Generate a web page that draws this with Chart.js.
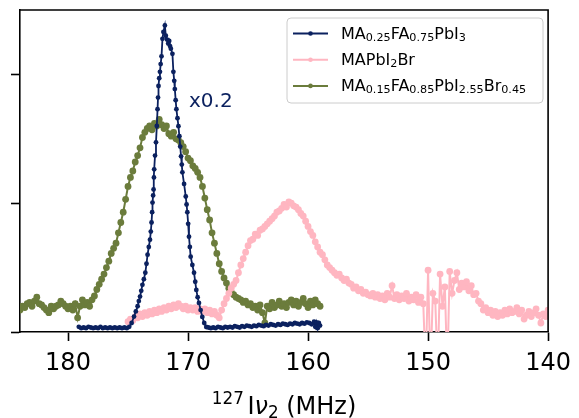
<!DOCTYPE html>
<html>
<head>
<meta charset="utf-8">
<script src="https://cdn.jsdelivr.net/npm/chart.js@4.4.1/dist/chart.umd.min.js"></script>
<style>
  html, body { margin: 0; padding: 0; background: #fff; }
  #wrap { width: 579px; height: 418px; }
</style>
</head>
<body>
<div id="wrap"><canvas id="nmr" width="579" height="418"></canvas></div>
<script>
// legend labels (markup: <sub>, <sup>, <i>)
const seriesLabels = [
    'MA<sub>0.25</sub>FA<sub>0.75</sub>PbI<sub>3</sub>',
    'MAPbI<sub>2</sub>Br',
    'MA<sub>0.15</sub>FA<sub>0.85</sub>PbI<sub>2.55</sub>Br<sub>0.45</sub>'
];
const seriesColors = ['#0b215f', '#ffb6c1', '#6b7c3c'];
const xTickValues = [180, 170, 160, 150, 140];
const yTickValues = [0, 1, 2];
const xAxisTitle = '<sup>127</sup>I<i>ν</i><sub>2</sub> (MHz)';
const scaleNote = 'x0.2';

// [frequency MHz, intensity]
const navyPoints = [
    [179.1,0.04],[178.9,0.03],[178.7,0.035],[178.5,0.03],[178.3,0.04],[178.1,0.035],[177.9,0.03],[177.7,0.035],
    [177.5,0.03],[177.3,0.04],[177.1,0.03],[176.9,0.035],[176.7,0.03],[176.5,0.035],[176.3,0.03],[176.1,0.035],
    [175.9,0.03],[175.7,0.035],[175.5,0.03],[175.3,0.035],[175.1,0.03],[174.9,0.04],
    [174.7,0.07],[174.5,0.12],[174.35,0.16],[174.2,0.2],[174.1,0.24],[174.0,0.275],[173.9,0.32],[173.8,0.366],
    [173.68,0.41],[173.56,0.46],[173.46,0.53],[173.37,0.6],[173.27,0.66],[173.17,0.717],[173.1,0.78],[173.04,0.85],
    [172.99,0.93],[172.96,1.005],[172.91,1.06],[172.87,1.107],[172.84,1.2],[172.82,1.263],[172.75,1.37],[172.67,1.473],
    [172.6,1.6],[172.54,1.73],[172.5,1.82],[172.46,1.91],[172.4,1.97],[172.34,2.02],[172.28,2.08],[172.21,2.14],
    [172.13,2.276],[172.05,2.33],[171.93,2.38],
    [171.85,2.30],[171.75,2.27],[171.65,2.24],[171.57,2.26],[171.5,2.22],[171.43,2.20],[171.3,2.16],[171.22,2.02],
    [171.15,1.95],[171.1,1.886],[171.03,1.8],[170.97,1.73],[170.88,1.66],[170.8,1.598],[170.72,1.52],[170.65,1.44],
    [170.58,1.364],[170.52,1.3],[170.47,1.24],[170.33,1.15],[170.19,1.052],[170.12,0.99],[170.06,0.93],[169.99,0.84],
    [169.92,0.74],[169.85,0.66],[169.78,0.585],[169.64,0.52],[169.5,0.46],[169.4,0.39],[169.31,0.327],[169.2,0.27],
    [169.09,0.226],[168.95,0.17],[168.81,0.117],[168.65,0.07],[168.48,0.039],
    [168.3,0.035],[168.1,0.03],[167.9,0.035],[167.7,0.03],[167.5,0.04],[167.3,0.035],[167.1,0.03],[166.9,0.04],
    [166.7,0.035],[166.5,0.04],[166.3,0.035],[166.1,0.045],[165.9,0.04],[165.7,0.035],[165.5,0.045],[165.3,0.04],
    [165.1,0.05],[164.9,0.045],[164.7,0.04],[164.5,0.05],[164.3,0.045],[164.1,0.055],[163.9,0.05],[163.7,0.045],
    [163.5,0.055],[163.3,0.05],[163.1,0.06],[162.9,0.055],[162.7,0.05],[162.5,0.06],[162.3,0.055],[162.1,0.065],
    [161.9,0.06],[161.7,0.055],[161.5,0.065],[161.3,0.06],[161.1,0.07],[160.9,0.065],[160.7,0.06],[160.5,0.07],
    [160.3,0.065],[160.1,0.075],[159.9,0.07],[159.7,0.06],[159.5,0.08],[159.4,0.04],[159.3,0.075],[159.2,0.03],
    [159.1,0.07],[159.0,0.05]
];

const pinkPoints = [
    [175.0,0.08],[174.8,0.1],[174.6,0.09],[174.4,0.12],[174.2,0.11],[174.0,0.14],[173.8,0.12],[173.6,0.15],
    [173.4,0.13],[173.2,0.16],[173.0,0.14],[172.8,0.17],[172.6,0.15],[172.4,0.18],[172.2,0.16],[172.0,0.19],
    [171.8,0.17],[171.6,0.2],[171.4,0.18],[171.2,0.21],[171.0,0.19],[170.8,0.22],[170.6,0.2],[170.4,0.18],
    [170.2,0.2],[170.0,0.17],[169.8,0.19],[169.6,0.17],[169.4,0.19],[169.2,0.16],[169.0,0.18],[168.8,0.16],
    [168.6,0.18],[168.4,0.15],[168.2,0.17],[168.0,0.14],[167.8,0.16],[167.6,0.13],[167.4,0.11],[167.2,0.17],
    [167.0,0.22],[166.8,0.26],[166.6,0.3],[166.4,0.34],[166.2,0.37],[166.0,0.4],[165.8,0.46],[165.6,0.52],
    [165.4,0.57],[165.2,0.62],[165.0,0.67],[164.8,0.71],[164.6,0.72],[164.4,0.76],[164.2,0.75],[164.0,0.79],
    [163.8,0.8],[163.6,0.82],[163.4,0.84],[163.2,0.86],[163.0,0.88],[162.8,0.9],[162.6,0.93],[162.4,0.94],
    [162.2,0.96],[162.0,0.99],[161.8,0.97],[161.6,1.01],[161.4,1.0],[161.2,0.98],[161.0,0.97],[160.8,0.95],
    [160.6,0.92],[160.4,0.9],[160.2,0.86],[160.0,0.82],[159.8,0.78],[159.6,0.75],[159.4,0.7],[159.2,0.66],
    [159.0,0.62],[158.8,0.6],[158.6,0.56],[158.4,0.52],[158.2,0.5],[158.0,0.48],[157.8,0.46],[157.6,0.44],
    [157.4,0.45],[157.2,0.42],[157.0,0.4],[156.8,0.41],[156.6,0.38],[156.4,0.37],[156.2,0.34],[156.0,0.35],
    [155.8,0.32],[155.6,0.33],[155.4,0.3],[155.2,0.31],[155.0,0.29],[154.8,0.28],[154.6,0.3],[154.4,0.27],
    [154.2,0.29],[154.0,0.26],[153.8,0.28],[153.6,0.25],[153.4,0.3],[153.2,0.27],[153.0,0.36],[152.8,0.26],
    [152.6,0.29],[152.4,0.25],[152.2,0.28],[152.0,0.26],[151.8,0.3],[151.6,0.24],[151.4,0.27],[151.2,0.25],
    [151.0,0.29],[150.8,0.23],[150.6,0.27],[150.4,0.22],[150.2,-0.3],[150.0,0.48],[149.8,-0.3],[149.6,0.3],
    [149.4,0.24],[149.2,-0.3],[149.0,0.45],[148.8,0.2],[148.6,0.35],[148.4,-0.3],[148.2,0.47],[148.0,0.3],
    [147.8,0.4],[147.6,0.46],[147.4,0.33],[147.2,0.38],[147.0,0.35],[146.8,0.39],[146.6,0.32],[146.4,0.36],
    [146.2,0.29],[146.0,0.3],[145.8,0.24],[145.6,0.22],[145.4,0.17],[145.2,0.19],[145.0,0.15],[144.8,0.17],
    [144.6,0.13],[144.4,0.16],[144.2,0.12],[144.0,0.15],[143.8,0.13],[143.6,0.17],[143.4,0.14],[143.2,0.18],
    [143.0,0.15],[142.8,0.16],[142.6,0.19],[142.4,0.14],[142.2,0.17],[142.0,0.1],[141.8,0.13],[141.6,0.16],
    [141.4,0.12],[141.2,0.15],[141.0,0.18],[140.8,0.13],[140.6,0.07],[140.4,0.14],[140.2,0.12],[140.0,0.17]
];

const greenPoints = [
    [184.0,0.17],[183.8,0.2],[183.6,0.19],[183.4,0.22],[183.2,0.23],[183.0,0.2],[182.8,0.24],[182.6,0.27],
    [182.4,0.22],[182.2,0.21],[182.0,0.19],[181.8,0.17],[181.6,0.15],[181.4,0.2],[181.2,0.18],[181.0,0.2],
    [180.8,0.21],[180.6,0.24],[180.4,0.22],[180.2,0.2],[180.0,0.18],[179.8,0.2],[179.6,0.17],[179.4,0.22],
    [179.2,0.11],[179.0,0.2],[178.8,0.25],[178.6,0.21],[178.4,0.23],[178.2,0.2],[178.0,0.25],[177.8,0.28],
    [177.6,0.33],[177.4,0.37],[177.2,0.41],[177.0,0.45],[176.8,0.5],[176.6,0.55],[176.4,0.61],[176.2,0.65],
    [176.0,0.69],[175.8,0.77],[175.6,0.85],[175.4,0.93],[175.2,1.03],[175.0,1.13],[174.8,1.2],[174.6,1.25],
    [174.4,1.32],[174.2,1.37],[174.0,1.43],[173.8,1.51],[173.6,1.55],[173.4,1.58],[173.2,1.6],[173.0,1.57],
    [172.8,1.62],[172.6,1.6],[172.4,1.65],[172.2,1.61],[172.0,1.58],[171.8,1.6],[171.6,1.54],[171.4,1.52],
    [171.2,1.55],[171.0,1.5],[170.8,1.49],[170.6,1.47],[170.4,1.44],[170.2,1.4],[170.0,1.35],[169.8,1.33],
    [169.6,1.29],[169.4,1.27],[169.2,1.24],[169.0,1.2],[168.8,1.13],[168.6,1.04],[168.4,0.95],[168.2,0.87],
    [168.0,0.77],[167.8,0.69],[167.6,0.61],[167.4,0.53],[167.2,0.47],[167.0,0.42],[166.8,0.38],[166.6,0.34],
    [166.4,0.31],[166.2,0.29],[166.0,0.27],[165.8,0.26],[165.6,0.25],[165.4,0.23],[165.2,0.24],[165.0,0.21],
    [164.8,0.22],[164.6,0.19],[164.4,0.2],[164.2,0.17],[164.0,0.21],[163.8,0.15],[163.6,0.07],[163.4,0.2],
    [163.2,0.18],[163.0,0.23],[162.8,0.19],[162.6,0.21],[162.4,0.24],[162.2,0.2],[162.0,0.22],[161.8,0.19],
    [161.6,0.23],[161.4,0.25],[161.2,0.21],[161.0,0.24],[160.8,0.2],[160.6,0.23],[160.4,0.26],[160.2,0.22],
    [160.0,0.19],[159.8,0.24],[159.6,0.21],[159.4,0.25],[159.2,0.22],[159.0,0.2]
];

const FONT = '"DejaVu Sans", "Liberation Sans", sans-serif';

function richParts(markup) {
    const re = /<(sub|sup|i)>(.*?)<\/\1>|([^<]+)/g;
    const out = [];
    let m;
    while ((m = re.exec(markup)) !== null) {
        if (m[3] !== undefined) out.push({ t: m[3], k: '' });
        else out.push({ t: m[2], k: m[1] });
    }
    return out;
}

function drawRich(ctx, markup, x, y, size, align) {
    const parts = richParts(markup);
    const fontOf = p => (p.k === 'i' ? 'italic ' : '') +
        ((p.k === 'sub' || p.k === 'sup') ? size * 0.7 : size) + 'px ' + FONT;
    let total = 0;
    parts.forEach(p => {
        ctx.font = fontOf(p);
        p.w = ctx.measureText(p.t).width + (p.k === 'sup' ? size * 0.15 : 0);
        total += p.w;
    });
    let cx = align === 'center' ? x - total / 2 : x;
    ctx.textAlign = 'left';
    ctx.textBaseline = 'alphabetic';
    parts.forEach(p => {
        ctx.font = fontOf(p);
        let dy = 0;
        if (p.k === 'sup') dy = -0.42 * size;
        if (p.k === 'sub') dy = 0.16 * size;
        ctx.fillText(p.t, cx, y + dy);
        cx += p.w;
    });
}

const decorPlugin = {
    id: 'decor',
    afterDraw(chart) {
        const ctx = chart.ctx;
        const a = chart.chartArea;
        ctx.save();

        // top and right spines
        ctx.strokeStyle = '#000';
        ctx.lineWidth = 1.6;
        ctx.beginPath();
        ctx.moveTo(a.left, a.top);
        ctx.lineTo(a.right, a.top);
        ctx.lineTo(a.right, a.bottom);
        ctx.stroke();

        // scaling note next to the peak
        ctx.fillStyle = seriesColors[0];
        ctx.font = '20px ' + FONT;
        ctx.textAlign = 'left';
        ctx.textBaseline = 'alphabetic';
        ctx.fillText(scaleNote, 189, 107);

        // x axis title
        ctx.fillStyle = '#000';
        drawRich(ctx, xAxisTitle, (a.left + a.right) / 2, 414, 24, 'center');

        // legend
        const bx = 287, by = 18, bw = 256, bh = 85;
        ctx.beginPath();
        ctx.roundRect(bx, by, bw, bh, 4);
        ctx.fillStyle = 'rgba(255,255,255,0.8)';
        ctx.fill();
        ctx.strokeStyle = '#cccccc';
        ctx.lineWidth = 1;
        ctx.stroke();

        chart.data.datasets.forEach((ds, i) => {
            const ly = 33.5 + i * 26.2;
            ctx.strokeStyle = ds.borderColor;
            ctx.lineWidth = 2;
            ctx.beginPath();
            ctx.moveTo(293, ly);
            ctx.lineTo(328, ly);
            ctx.stroke();
            ctx.fillStyle = ds.borderColor;
            ctx.beginPath();
            ctx.arc(310.5, ly, 2.3, 0, Math.PI * 2);
            ctx.fill();
            ctx.fillStyle = '#000';
            drawRich(ctx, seriesLabels[i], 341, ly + 5, 16, 'left');
        });

        ctx.restore();
    }
};

function toXY(points) {
    return points.map(p => ({ x: p[0], y: p[1] }));
}

new Chart(document.getElementById('nmr'), {
    type: 'line',
    data: {
        datasets: [
            {
                label: 'MA0.25FA0.75PbI3',
                data: toXY(navyPoints),
                borderColor: seriesColors[0],
                backgroundColor: seriesColors[0],
                borderWidth: 1.8,
                pointRadius: 2.4,
                pointBorderWidth: 0,
                clip: 0
            }, {
                label: 'MAPbI2Br',
                data: toXY(pinkPoints),
                borderColor: seriesColors[1],
                backgroundColor: seriesColors[1],
                borderWidth: 2,
                pointRadius: 3.4,
                pointBorderWidth: 0,
                clip: 0
            }, {
                label: 'MA0.15FA0.85PbI2.55Br0.45',
                data: toXY(greenPoints),
                borderColor: seriesColors[2],
                backgroundColor: seriesColors[2],
                borderWidth: 2,
                pointRadius: 3.4,
                pointBorderWidth: 0,
                clip: 0
            }
        ]
    },
    options: {
        responsive: false,
        animation: false,
        devicePixelRatio: 1,
        layout: { padding: { top: 10, right: 28, left: 0, bottom: 0 }, autoPadding: false },
        elements: { line: { tension: 0 } },
        plugins: {
            legend: { display: false },
            tooltip: { enabled: false },
            title: { display: false }
        },
        scales: {
            x: {
                type: 'linear',
                reverse: true,
                min: 140,
                max: 184,
                afterBuildTicks: s => { s.ticks = xTickValues.map(v => ({ value: v })); },
                afterFit: s => { s.height = 86; },
                ticks: {
                    color: '#000',
                    font: { family: FONT, size: 24 },
                    padding: 8,
                    maxRotation: 0,
                    autoSkip: false
                },
                grid: { drawOnChartArea: false, tickLength: 9, tickWidth: 1.6, tickColor: '#000' },
                border: { color: '#000', width: 1.6 }
            },
            y: {
                min: 0,
                max: 2.5,
                afterBuildTicks: s => { s.ticks = yTickValues.map(v => ({ value: v })); },
                afterFit: s => { s.width = 20; },
                ticks: { display: false },
                grid: { drawOnChartArea: false, tickLength: 9, tickWidth: 1.6, tickColor: '#000' },
                border: { color: '#000', width: 1.6 }
            }
        }
    },
    plugins: [decorPlugin]
});
</script>
</body>
</html>
